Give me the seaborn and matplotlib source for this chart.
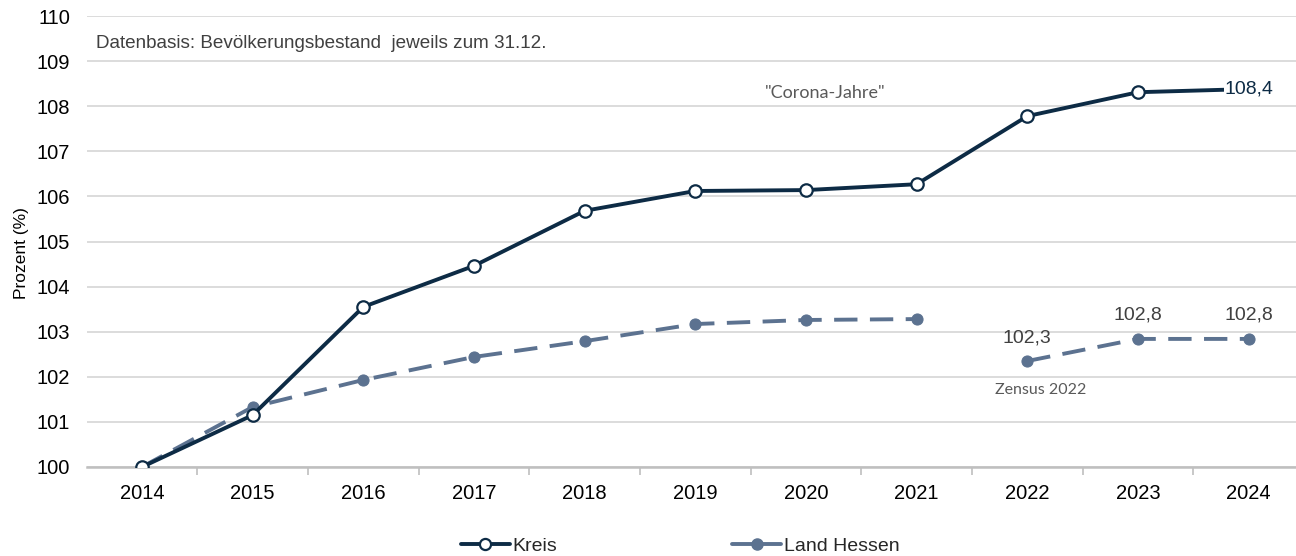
import numpy as np
import pandas as pd
import matplotlib
matplotlib.use("Agg")
import matplotlib.pyplot as plt
from matplotlib.lines import Line2D
import seaborn as sns

years = [2014, 2015, 2016, 2017, 2018, 2019, 2020, 2021, 2022, 2023, 2024]
kreis = [100.0, 101.15, 103.55, 104.46, 105.68, 106.12, 106.14, 106.27, 107.78, 108.31, 108.38]
hessen_a_years = [2014, 2015, 2016, 2017, 2018, 2019, 2020, 2021]
hessen_a = [100.0, 101.33, 101.93, 102.44, 102.79, 103.17, 103.26, 103.28]
hessen_b_years = [2022, 2023, 2024]
hessen_b = [102.35, 102.84, 102.84]
hessen_labels = ["102,3", "102,8", "102,8"]
kreis_label = "108,4"

sns.set_theme(style="white")
plt.rcParams['font.family'] = ['Liberation Sans', 'DejaVu Sans']

c_kreis = "#0D2B45"
c_hessen = "#5C7290"

fig = plt.figure(figsize=(12.96, 5.56), dpi=100)
ax = fig.add_axes([86.6 / 1296, 89 / 556, (1304 - 86.6) / 1296, 451 / 556])

pos = {y: i for i, y in enumerate(years)}
df_k = pd.DataFrame({"x": [pos[y] for y in years], "v": kreis})
df_ha = pd.DataFrame({"x": [pos[y] for y in hessen_a_years], "v": hessen_a})
df_hb = pd.DataFrame({"x": [pos[y] for y in hessen_b_years], "v": hessen_b})

dash = (6.0, 3.2)
for d in (df_ha, df_hb):
    sns.lineplot(data=d, x="x", y="v", ax=ax, color=c_hessen, lw=2.8,
                 marker="o", markersize=8, markeredgecolor=c_hessen,
                 dashes=False, zorder=3)
for ln in ax.get_lines():
    ln.set_dashes(dash)
    ln.set_dash_capstyle("butt")

sns.lineplot(data=df_k, x="x", y="v", ax=ax, color=c_kreis, lw=2.8, zorder=4)
sns.scatterplot(data=df_k.iloc[:-1], x="x", y="v", ax=ax, color="white",
                edgecolor=c_kreis, linewidth=1.6, s=80, zorder=5)

ax.set_xlim(-0.5, 10.5)
ax.set_ylim(100, 110)
ax.set_yticks(range(100, 111))
ax.set_xticks(range(len(years)))
ax.set_xticklabels([str(y) for y in years])
ax.set_xticks(np.arange(0.5, 10.5, 1.0), minor=True)
ax.tick_params(axis="x", which="major", length=0, pad=12, labelsize=14.5, colors="#000000")
ax.tick_params(axis="x", which="minor", length=6, width=1.2, color="#BFBFBF", direction="out", bottom=True)
ax.tick_params(axis="y", length=0, pad=12, labelsize=14.5, colors="#000000")
ax.grid(axis="y", color="#D9D9D9", lw=1.3)
ax.set_axisbelow(True)
for s in ("left", "right", "top"):
    ax.spines[s].set_visible(False)
ax.spines["bottom"].set_color("#BFBFBF")
ax.spines["bottom"].set_linewidth(1.8)
ax.set_xlabel("")
ax.set_ylabel("Prozent (%)", fontsize=12.5, color="#000000")
ax.yaxis.set_label_coords(-0.047, 0.475)

ax.text(0.008, 0.94, "Datenbasis: Bevölkerungsbestand  jeweils zum 31.12.",
        transform=ax.transAxes, fontsize=13.6, color="#404040", va="center", ha="left")

ax.text(pos[2024], kreis[-1], kreis_label, fontsize=14, color=c_kreis, va="center", ha="center",
        zorder=6, bbox=dict(boxstyle="square,pad=0.02", fc="white", ec="none"))
for yr, v, lab in zip(hessen_b_years, hessen_b, hessen_labels):
    ax.text(pos[yr], v + 0.52, lab, fontsize=14, color="#404040", ha="center", va="center")

ax.text(pos[2022] + 0.12, hessen_b[0] - 0.64, "Zensus 2022", fontsize=11.5, color="#595959",
        ha="center", va="center", family=["Lato", "DejaVu Sans"])
ax.text(6.17, 108.29, "\"Corona-Jahre\"", fontsize=13, color="#595959",
        ha="center", va="center", family=["Lato", "DejaVu Sans"])

h_k = Line2D([], [], color=c_kreis, lw=2.8, marker="o", markersize=8,
             markerfacecolor="white", markeredgecolor=c_kreis, markeredgewidth=1.6)
h_h = Line2D([], [], color=c_hessen, lw=2.8, marker="o", markersize=8,
             markeredgecolor=c_hessen)
fig.legend([h_k, h_h], ["Kreis", "Land Hessen"], loc="lower center",
           bbox_to_anchor=(0.525, -0.03), ncol=2, frameon=False, fontsize=14,
           columnspacing=9.0, handlelength=2.5, handletextpad=0.15)

fig.savefig("out.png", dpi=100)
